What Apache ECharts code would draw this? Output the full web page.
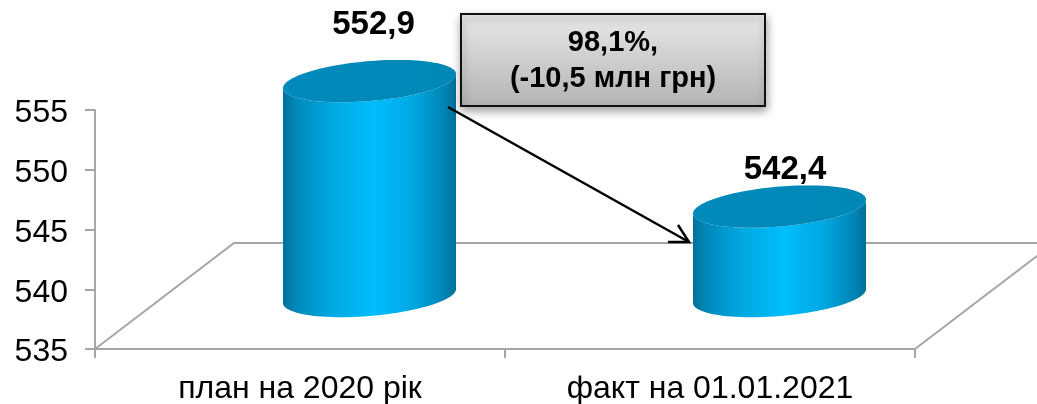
<!DOCTYPE html>
<html><head><meta charset="utf-8">
<style>html,body{margin:0;padding:0;background:#fff}#c{width:1037px;height:404px}</style>
<script src="https://cdn.jsdelivr.net/npm/echarts@6/dist/echarts.min.js"></script>
</head><body><div id="c"></div>
<script>
const categories = ['план на 2020 рік', 'факт на 01.01.2021'];
const values = [552.9, 542.4];
const valueLabels = ['552,9', '542,4'];
const yTicks = [535, 540, 545, 550, 555];
const calloutLines = ['98,1%,', '(-10,5 млн грн)'];

const FONT = '"Liberation Sans", Arial, sans-serif';
const DEPTH_X = 139, DEPTH_Y = 106;
const AXIS = '#a6a6a6';
const labelShift = [[4, -56], [5.5, -37]];

function arc(cx, cy, a, b, s, from, to, n) {
  const pts = [];
  for (let i = 0; i <= n; i++) {
    const t = from + (to - from) * i / n;
    pts.push([cx + a * Math.cos(t), cy + b * Math.sin(t) - s * Math.cos(t)]);
  }
  return pts;
}
const sideGrad = new echarts.graphic.LinearGradient(0, 0, 1, 0, [
  {offset: 0, color: '#00709a'},
  {offset: 0.07, color: '#0087b8'},
  {offset: 0.28, color: '#00a8e0'},
  {offset: 0.53, color: '#00bdfd'},
  {offset: 0.75, color: '#00a8e2'},
  {offset: 0.93, color: '#0085b5'},
  {offset: 1, color: '#006f98'}
]);
const topGrad = new echarts.graphic.LinearGradient(0, 0, 1, 0, [
  {offset: 0, color: '#008abb'},
  {offset: 1, color: '#0087b6'}
]);

function renderBar(params, api) {
  const i = api.value(0), v = api.value(1);
  const base = api.coord([i, yTicks[0]]);
  const topP = api.coord([i, v]);
  const cx = base[0] + DEPTH_X / 2;
  const by = base[1] - DEPTH_Y / 2;
  const ty = topP[1] - DEPTH_Y / 2 - 1;
  const a = api.size([1, 0])[0] * 0.211, b = 20, s = 7;
  const lower = arc(cx, by, a, b, s, 0, Math.PI, 48);
  const body = [[cx + a, ty - s]].concat(lower, [[cx - a, ty + s]], arc(cx, ty, a, b, s, Math.PI, 0, 48));
  const top = arc(cx, ty, a, b, s, 0, Math.PI * 2, 96);
  const sh = labelShift[i];
  return {type: 'group', children: [
    {type: 'polygon', shape: {points: body}, style: {fill: sideGrad}},
    {type: 'polygon', shape: {points: top}, style: {fill: topGrad}},
    {type: 'text', x: cx + sh[0], y: ty + sh[1], style: {
      text: valueLabels[i], font: 'bold 33px ' + FONT, fill: '#000', align: 'center', verticalAlign: 'middle'}}
  ]};
}
function renderFloor(params, api) {
  const c = params.coordSys;
  const L = c.x, R = c.x + c.width, Y = c.y + c.height;
  const st = {stroke: AXIS, lineWidth: 2, fill: 'none'};
  return {type: 'group', children: [
    {type: 'polyline', shape: {points: [[L, Y], [L + DEPTH_X, Y - DEPTH_Y], [R + DEPTH_X, Y - DEPTH_Y], [R, Y]]}, style: st}
  ]};
}

const chart = echarts.init(document.getElementById('c'), null, {renderer: 'canvas'});
chart.setOption({
  animation: false,
  backgroundColor: '#fff',
  grid: {left: 95, right: 122, top: 110, bottom: 55, containLabel: false, outerBoundsMode: 'none'},
  xAxis: {type: 'category', data: categories,
    axisLine: {show: true, lineStyle: {color: AXIS, width: 2}},
    axisTick: {show: true, length: 9, alignWithLabel: false, lineStyle: {color: AXIS, width: 2}},
    axisLabel: {color: '#000', fontFamily: FONT, fontSize: 32, margin: 24}},
  yAxis: {type: 'value', min: yTicks[0], max: yTicks[yTicks.length - 1], interval: 5,
    splitLine: {show: false},
    axisLine: {show: true, lineStyle: {color: AXIS, width: 2}},
    axisTick: {show: true, length: 10, lineStyle: {color: AXIS, width: 2}},
    axisLabel: {margin: 27, formatter: '{t|{value}}',
      rich: {t: {color: '#000', fontFamily: FONT, fontSize: 32, padding: [7, 0, 0, 0]}}}},
  series: [
    {type: 'custom', renderItem: renderFloor, data: [[0, 0]], clip: false, z: 1, silent: true},
    {type: 'custom', renderItem: renderBar, encode: {x: 0, y: 1}, clip: false, z: 2,
      data: values.map((v, i) => [i, v])}
  ],
  graphic: [
    {type: 'polyline', z: 10, shape: {points: [[448, 107], [689, 242]]}, style: {stroke: '#000', lineWidth: 2.5, fill: 'none'}},
    {type: 'polyline', z: 10, shape: {points: [[668, 242], [689, 242], [678, 225]]}, style: {stroke: '#000', lineWidth: 2.5, fill: 'none'}},
    {type: 'rect', z: 11, shape: {x: 461, y: 14, width: 304, height: 92},
      style: {stroke: '#111', lineWidth: 2,
        fill: new echarts.graphic.LinearGradient(0, 0, 0, 1, [{offset: 0, color: '#e9e9e9'}, {offset: 1, color: '#b3b3b3'}]),
        shadowBlur: 9, shadowOffsetY: 4, shadowOffsetX: 1, shadowColor: 'rgba(0,0,0,0.35)'}},
    {type: 'text', z: 12, x: 613, y: 61, style: {text: calloutLines.join('\n'), font: 'bold 29px ' + FONT, lineHeight: 36,
      fill: '#000', align: 'center', verticalAlign: 'middle'}}
  ]
});
</script></body></html>
